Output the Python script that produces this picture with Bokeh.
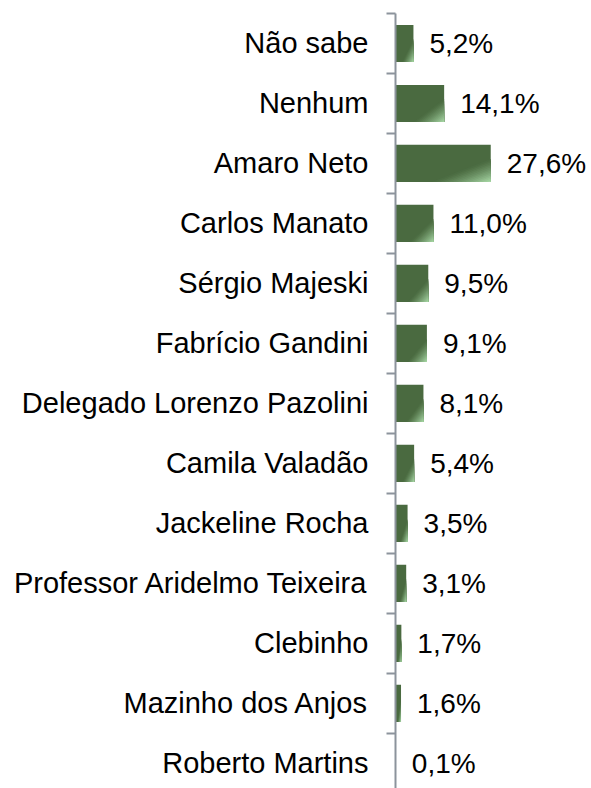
from bokeh.plotting import figure
from bokeh.models import FixedTicker, ColumnDataSource, Range1d
from bokeh.embed import file_html
from bokeh.resources import INLINE
from bokeh.core.properties import value

categories = ["Não sabe", "Nenhum", "Amaro Neto", "Carlos Manato", "Sérgio Majeski",
              "Fabrício Gandini", "Delegado Lorenzo Pazolini", "Camila Valadão",
              "Jackeline Rocha", "Professor Aridelmo Teixeira", "Clebinho",
              "Mazinho dos Anjos", "Roberto Martins"]
values = [5.2, 14.1, 27.6, 11.0, 9.5, 9.1, 8.1, 5.4, 3.5, 3.1, 1.7, 1.6, 0.1]

n = len(categories)
ypos = [n - 1 - i for i in range(n)]
labels = [f"{v:.1f}".replace(".", ",") + "%" for v in values]

BAR_H = 0.62
DARK = (74, 106, 64)
LIGHT = (166, 214, 164)

p = figure(width=591, height=788, output_backend="svg", toolbar_location=None,
           x_range=Range1d(0, 56.8), y_range=Range1d(-0.42, n - 0.5),
           x_axis_location=None, min_border_left=395, min_border_top=13,
           min_border_bottom=0, min_border_right=0)
p.outline_line_color = None
p.xgrid.visible = False
p.ygrid.visible = False
p.background_fill_color = "white"
p.border_fill_color = "white"

src = ColumnDataSource(dict(y=ypos, v=values, lab=labels))
p.hbar(y="y", right="v", left=0, height=BAR_H, source=src,
       fill_color="#%02x%02x%02x" % DARK, line_color=None)

# gradient toward bottom-right corner, built from nested triangles
steps = 14
for k in range(steps):
    s = 0.62 * (1 - k / steps)
    t = (k + 1) / steps
    col = tuple(int(DARK[j] + (LIGHT[j] - DARK[j]) * t ** 1.3) for j in range(3))
    xs, ys = [], []
    for yv, v in zip(ypos, values):
        bottom = yv - BAR_H / 2
        xs.append([v - s * v, v, v])
        ys.append([bottom, bottom, bottom + s * BAR_H])
    p.patches(xs, ys, fill_color="#%02x%02x%02x" % col, line_color=None)

p.text(x="v", y="y", text="lab", source=src, x_offset=16, text_align="left",
       text_baseline="middle", text_font=value("Liberation Sans"),
       text_font_size="28px", text_color="black")

ax = p.yaxis[0]
ax.ticker = FixedTicker(ticks=ypos, minor_ticks=[i - 0.5 for i in range(n + 1)])
ax.major_label_overrides = {y: c for y, c in zip(ypos, categories)}
ax.major_tick_out = 0
ax.major_tick_in = 0
ax.minor_tick_out = 9
ax.minor_tick_in = 0
ax.minor_tick_line_color = "#8c939c"
ax.minor_tick_line_width = 2
ax.axis_line_color = "#8c939c"
ax.axis_line_width = 2
ax.major_label_standoff = 18
ax.major_label_text_font = "Liberation Sans"
ax.major_label_text_font_size = "29px"
ax.major_label_text_color = "black"

open("out.html", "w").write(file_html(p, INLINE))
